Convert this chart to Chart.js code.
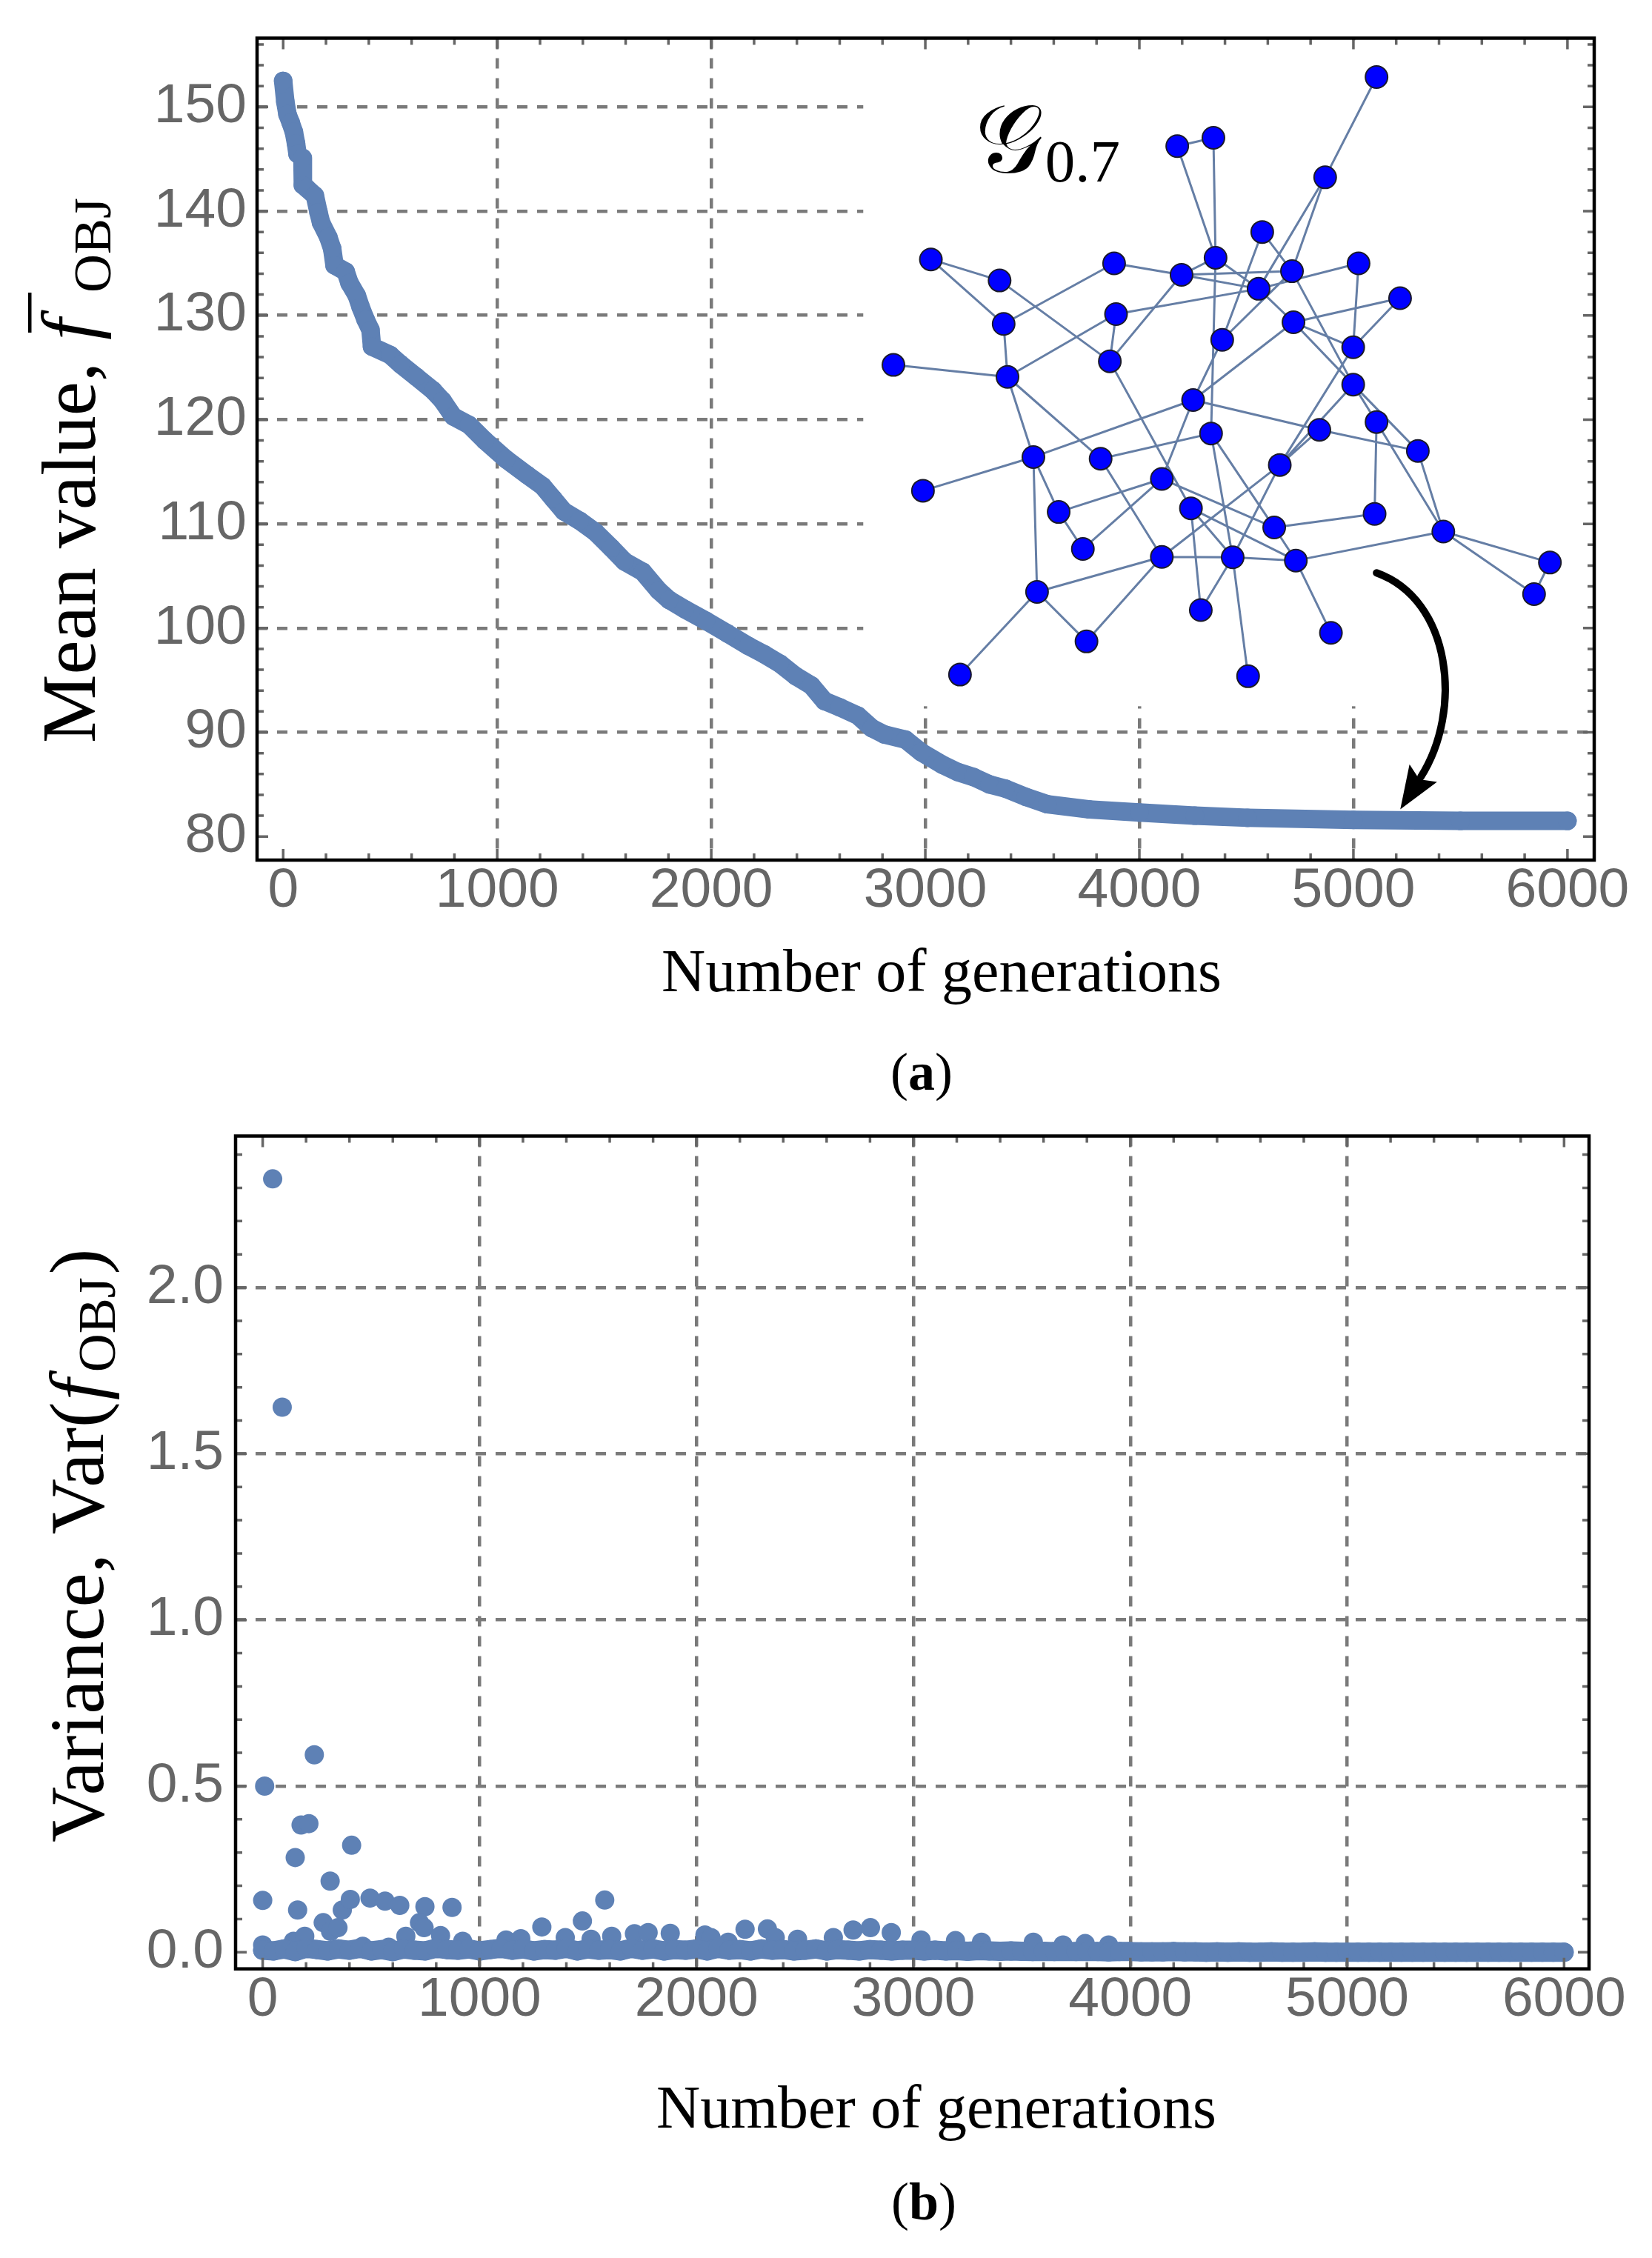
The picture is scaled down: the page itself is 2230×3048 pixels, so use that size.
<!DOCTYPE html>
<html>
<head>
<meta charset="utf-8">
<title>Mean value and variance of f_OBJ vs generations</title>
<script src="https://cdn.jsdelivr.net/npm/chart.js@4.4.1/dist/chart.umd.min.js"></script>
<style>
  html, body { margin: 0; padding: 0; background: #fff; }
  #page { position: relative; width: 2230px; height: 3048px; overflow: hidden; background: #fff; }
  canvas { position: absolute; left: 0; }
  #meanChart { top: 0; }
  #varChart { top: 1480px; }
</style>
</head>
<body>
<div id="page">
  <canvas id="meanChart" width="2230" height="1500"></canvas>
  <canvas id="varChart" width="2230" height="1568"></canvas>
</div>
<script>
// Two stacked Mathematica-style scatter panels, drawn with Chart.js

const BLUE = '#5e81b5';
const GRID = '#7a7a7a';
const TICK = '#666666';
const SANS = '"Liberation Sans", Arial, sans-serif';
const SERIF = '"Liberation Serif", "Times New Roman", serif';

// ---- panel (a): mean value of f_OBJ ----
const meanGen = [0, 10, 20, 35, 50, 60, 67, 90, 92, 110, 148, 165, 177, 211, 229, 240, 292, 310, 344, 362,
  385, 408, 415, 500, 549, 622, 700, 745, 795, 868, 942, 1041, 1139, 1213, 1262, 1311, 1385, 1459, 1533, 1594,
  1680, 1754, 1803, 1877, 1975, 2074, 2172, 2246, 2320, 2394, 2467, 2529, 2600, 2685, 2750, 2808, 2907, 2980, 3079, 3150,
  3226, 3300, 3374, 3470, 3570, 3767, 4000, 4259, 4505, 5000, 5500, 6000];
const meanVal = [152.5, 150.5, 149.3, 148.5, 147.6, 146.5, 145.5, 145.1, 142.5, 142.2, 141.5, 139.9, 138.9, 137.5, 136.4, 134.8, 134.2, 133.1, 131.9, 130.8,
  129.6, 128.6, 127.0, 126.2, 125.3, 124.1, 122.8, 121.8, 120.3, 119.5, 118.0, 116.2, 114.7, 113.6, 112.4, 111.2, 110.3, 109.2, 107.7, 106.4,
  105.4, 103.6, 102.7, 101.8, 100.7, 99.5, 98.3, 97.5, 96.6, 95.4, 94.5, 93.0, 92.4, 91.6, 90.4, 89.8, 89.3, 88.1, 86.9, 86.2,
  85.7, 85.0, 84.6, 83.8, 83.1, 82.6, 82.3, 82.0, 81.8, 81.6, 81.5, 81.5];
const genTicks = [0, 1000, 2000, 3000, 4000, 5000, 6000];
const genGrid = [1000, 2000, 3000, 4000, 5000];
const meanTicks = [80, 90, 100, 110, 120, 130, 140, 150];
const meanGrid = [90, 100, 110, 120, 130, 140, 150];

// inset graph G_0.7, node positions given in the panel's axis units
const nodeGen = [4177, 4346, 3026, 3347, 3882, 4197, 4356, 3366, 3891, 2851,
  3384, 3862, 4251, 4387, 5108, 4868, 4574, 4713, 5024, 4557,
  5218, 4720, 4999, 4999, 4335, 3505, 3819, 2989, 4105, 3623,
  4241, 3736, 4105, 3522, 4287, 3753, 3162, 5108, 4841, 5301,
  4656, 5099, 4630, 5420, 4436, 4731, 5918, 5844, 4895, 4508];
const nodeVal = [146.24, 147.04, 135.37, 133.35, 134.99, 133.89, 135.53, 129.18, 130.12, 125.25,
  124.1, 125.6, 121.88, 127.65, 152.87, 143.25, 138.0, 134.24, 134.99, 132.55,
  131.65, 129.34, 126.94, 123.36, 118.67, 116.41, 116.25, 113.18, 114.31, 111.14,
  111.49, 107.59, 106.83, 103.47, 101.73, 98.72, 95.54, 119.77, 119.02, 117.0,
  115.65, 110.95, 109.65, 109.26, 106.79, 106.48, 106.29, 103.26, 99.54, 95.38];
const edges = [[0, 1], [0, 6], [1, 6], [6, 24], [2, 3], [2, 7], [3, 11], [7, 4], [4, 5], [5, 6],
  [5, 17], [5, 19], [5, 11], [8, 11], [8, 10], [8, 19], [7, 10], [10, 9], [10, 25], [10, 26],
  [11, 30], [13, 12], [12, 21], [14, 15], [15, 19], [15, 17], [16, 13], [16, 17], [13, 17], [6, 19],
  [19, 21], [19, 18], [18, 22], [20, 21], [20, 22], [21, 22], [17, 23], [21, 23], [22, 40], [23, 40],
  [23, 37], [23, 39], [12, 38], [38, 39], [38, 40], [37, 41], [37, 43], [39, 43], [41, 42], [43, 45],
  [43, 46], [43, 47], [46, 47], [44, 45], [42, 45], [45, 48], [44, 49], [44, 34], [32, 44], [40, 44],
  [24, 44], [24, 42], [28, 42], [30, 45], [30, 44], [40, 32], [25, 27], [25, 12], [25, 29], [25, 33],
  [26, 24], [26, 32], [29, 28], [29, 31], [31, 28], [28, 12], [30, 34], [32, 33], [32, 35], [33, 35], [33, 36]];

// decoration anchors (axis units)
const insetBox = { gen: 2710, val: 92.5 };
const graphLabel = { gen: 3231, val: 143.8 };
const arrowPath = [[5108, 105.3], [5460, 102.7], [5512, 92.1], [5219, 82.6]];

// ---- panel (b): variance of f_OBJ ----
const varGen = [46, 90, 9, 238, 0, 150, 177, 213, 410, 161,
  311, 279, 313, 347, 367, 404, 495, 564, 632, 748,
  873, 723, 744, 660, 820, 922, 0, 142, 194, 461,
  581, 1122, 1190, 1287, 1395, 1474, 1514, 1577, 1609, 1714,
  1777, 1879, 2039, 2067, 2146, 2224, 2327, 2363, 2466, 2631,
  2722, 2802, 2898, 3035, 3194, 3314, 3553, 3690, 3792, 3900];
const varVal = [2.327, 1.64, 0.50, 0.594, 0.156, 0.285, 0.383, 0.387, 0.322, 0.127,
  0.214, 0.089, 0.063, 0.074, 0.127, 0.159, 0.163, 0.154, 0.141, 0.137,
  0.135, 0.089, 0.074, 0.048, 0.050, 0.033, 0.022, 0.033, 0.048, 0.018,
  0.015, 0.037, 0.041, 0.076, 0.044, 0.094, 0.039, 0.157, 0.048, 0.056,
  0.059, 0.057, 0.052, 0.044, 0.030, 0.069, 0.070, 0.044, 0.039, 0.044,
  0.067, 0.074, 0.059, 0.037, 0.035, 0.030, 0.030, 0.022, 0.026, 0.022];
const baseGen = [0, 50, 100, 150, 200, 250, 300, 350, 400, 450, 500, 550, 600, 650, 700, 750, 800, 850, 900, 950,
  1000, 1050, 1100, 1150, 1200, 1250, 1300, 1350, 1400, 1450, 1500, 1550, 1600, 1650, 1700, 1750, 1800, 1850, 1900, 1950,
  2000, 2050, 2100, 2150, 2200, 2250, 2300, 2350, 2400, 2450, 2500, 2550, 2600, 2650, 2700, 2750, 2800, 2850, 2900, 2950,
  3000, 3050, 3100, 3150, 3200, 3250, 3300, 3350, 3400, 3450, 3500, 3550, 3600, 3650, 3700, 3750, 3800, 3850, 3900, 3950,
  4000, 4050, 4100, 4150, 4200, 4250, 4300, 4350, 4400, 4450, 4500, 4550, 4600, 4650, 4700, 4750, 4800, 4850, 4900, 4950,
  5000, 5050, 5100, 5150, 5200, 5250, 5300, 5350, 5400, 5450, 5500, 5550, 5600, 5650, 5700, 5750, 5800, 5850, 5900, 5950, 6000];
const baseVar = [0.006, 0.004, 0.010, 0.002, 0.012, 0.008, 0.004, 0.010, 0.006, 0.012,
  0.004, 0.008, 0.002, 0.010, 0.006, 0.004, 0.012, 0.008, 0.006, 0.010,
  0.004, 0.008, 0.012, 0.006, 0.010, 0.004, 0.008, 0.006, 0.012, 0.004,
  0.010, 0.006, 0.008, 0.004, 0.012, 0.006, 0.010, 0.004, 0.008, 0.006,
  0.010, 0.004, 0.012, 0.006, 0.008, 0.004, 0.010, 0.006, 0.008, 0.004,
  0.006, 0.010, 0.004, 0.008, 0.006, 0.004, 0.008, 0.006, 0.004, 0.006,
  0.006, 0.004, 0.006, 0.004, 0.005, 0.003, 0.005, 0.004, 0.003, 0.004,
  0.003, 0.002, 0.003, 0.002, 0.003, 0.002, 0.002, 0.002, 0.001, 0.002,
  0.002, 0.001, 0.001, 0.001, 0.002, 0.001, 0.001, 0, 0.001, 0,
  0.001, 0, 0, 0.001, 0, 0, 0, 0.001, 0, 0,
  0, 0, 0, 0, 0, 0, 0, 0, 0, 0,
  0, 0, 0, 0, 0, 0, 0, 0, 0, 0, 0];
const varTicks = [0, 0.5, 1, 1.5, 2];
const varGrid = [0.5, 1, 1.5, 2];

function zip(xs, ys) {
  return xs.map((x, i) => ({ x: x, y: ys[i] }));
}

function range(from, to, step) {
  const out = [];
  for (let v = from; v <= to + 1e-9; v += step) out.push(+v.toFixed(4));
  return out;
}

function axisX(min, max, grid) {
  return {
    type: 'linear', min: min, max: max,
    afterBuildTicks: s => { s.ticks = genTicks.map(v => ({ value: v })); },
    afterFit: s => { s.height = 100; },
    grid: { drawTicks: false, lineWidth: 4.5, color: c => (c.tick && grid.includes(c.tick.value)) ? GRID : 'rgba(0,0,0,0)' },
    border: { display: false, dash: [14, 13] },
    ticks: { color: TICK, padding: 5, maxRotation: 0, autoSkip: false,
      font: { family: SANS, size: 75, lineHeight: 1 }, callback: v => String(v) }
  };
}

function axisY(min, max, ticks, grid, width, pad, fmt) {
  return {
    type: 'linear', min: min, max: max,
    afterBuildTicks: s => { s.ticks = ticks.map(v => ({ value: v })); },
    afterFit: s => { s.width = width; },
    grid: { drawTicks: false, lineWidth: 4.5, color: c => (c.tick && grid.includes(c.tick.value)) ? GRID : 'rgba(0,0,0,0)' },
    border: { display: false, dash: [14, 13] },
    ticks: { color: TICK, padding: pad, autoSkip: false,
      font: { family: SANS, size: 75, lineHeight: 1 }, callback: fmt }
  };
}

// frame with inward ticks on all four sides
const framePlugin = {
  id: 'frame',
  afterDraw(chart, args, opts) {
    const { ctx, chartArea: a } = chart;
    const xs = chart.scales.x, ys = chart.scales.y;
    ctx.save();
    ctx.strokeStyle = TICK;
    ctx.lineWidth = 3.5;
    ctx.beginPath();
    opts.xMinor.forEach(v => {
      const len = opts.xMajor.includes(v) ? 15 : 9;
      const px = xs.getPixelForValue(v);
      ctx.moveTo(px, a.bottom); ctx.lineTo(px, a.bottom - len);
      ctx.moveTo(px, a.top); ctx.lineTo(px, a.top + len);
    });
    opts.yMinor.forEach(v => {
      const len = opts.yMajor.includes(v) ? 15 : 9;
      const py = ys.getPixelForValue(v);
      ctx.moveTo(a.left, py); ctx.lineTo(a.left + len, py);
      ctx.moveTo(a.right, py); ctx.lineTo(a.right - len, py);
    });
    ctx.stroke();
    ctx.strokeStyle = '#000';
    ctx.lineWidth = 4.5;
    ctx.strokeRect(a.left, a.top, a.right - a.left, a.bottom - a.top);
    ctx.restore();
  }
};

// white inset behind the graph, the graph label and the arrow
const insetPlugin = {
  id: 'inset',
  beforeDatasetsDraw(chart) {
    const { ctx, chartArea: a, scales: { x, y } } = chart;
    const left = x.getPixelForValue(insetBox.gen);
    const bottom = y.getPixelForValue(insetBox.val);
    ctx.save();
    ctx.fillStyle = '#fff';
    ctx.fillRect(left, a.top + 3, a.right - 3 - left, bottom - a.top - 3);
    ctx.restore();
  },
  afterDatasetsDraw(chart) {
    const { ctx, scales: { x, y } } = chart;
    const p = arrowPath.map(([g, v]) => [x.getPixelForValue(g), y.getPixelForValue(v)]);
    let dx = p[3][0] - p[2][0], dy = p[3][1] - p[2][1];
    const d = Math.hypot(dx, dy);
    dx /= d; dy /= d;
    const headLen = 58, headHalf = 22;
    const base = [p[3][0] - dx * headLen, p[3][1] - dy * headLen];
    ctx.save();
    ctx.strokeStyle = '#000';
    ctx.fillStyle = '#000';
    ctx.lineWidth = 10;
    ctx.lineCap = 'round';
    ctx.beginPath();
    ctx.moveTo(p[0][0], p[0][1]);
    ctx.bezierCurveTo(p[1][0], p[1][1], p[2][0], p[2][1], base[0] + dx * 6, base[1] + dy * 6);
    ctx.stroke();
    ctx.beginPath();
    ctx.moveTo(p[3][0], p[3][1]);
    ctx.lineTo(base[0] - dy * headHalf, base[1] + dx * headHalf);
    ctx.lineTo(base[0] + dx * 10, base[1] + dy * 10);
    ctx.lineTo(base[0] + dy * headHalf, base[1] - dx * headHalf);
    ctx.closePath();
    ctx.fill();

    const gx = x.getPixelForValue(graphLabel.gen);
    const gy = y.getPixelForValue(graphLabel.val);
    ctx.textBaseline = 'alphabetic';
    ctx.textAlign = 'left';
    ctx.font = '130px "DejaVu Serif", "DejaVu Sans", serif';
    ctx.fillText('\u{1D4A2}', gx, gy);
    const gw = ctx.measureText('\u{1D4A2}').width;
    ctx.font = '81px ' + SERIF;
    ctx.fillText('0.7', gx + gw + 2, gy + 13);
    ctx.restore();
  }
};

function drawCaption(ctx, letter, cx, baseY) {
  ctx.font = '72px ' + SERIF;
  const wp = ctx.measureText('(').width;
  const wq = ctx.measureText(')').width;
  ctx.font = 'bold 72px ' + SERIF;
  const wl = ctx.measureText(letter).width;
  const x0 = cx - (wp + wl + wq) / 2;
  ctx.textAlign = 'left';
  ctx.font = '72px ' + SERIF;
  ctx.fillText('(', x0, baseY);
  ctx.font = 'bold 72px ' + SERIF;
  ctx.fillText(letter, x0 + wp, baseY);
  ctx.font = '72px ' + SERIF;
  ctx.fillText(')', x0 + wp + wl, baseY);
}

const meanTextPlugin = {
  id: 'meanText',
  afterDraw(chart) {
    const ctx = chart.ctx;
    ctx.save();
    ctx.fillStyle = '#000';
    ctx.textBaseline = 'alphabetic';
    ctx.textAlign = 'center';
    ctx.font = '82px ' + SERIF;
    ctx.fillText('Number of generations', 1271, 1338);
    drawCaption(ctx, 'a', 1244, 1471);

    ctx.translate(128, 1003);
    ctx.rotate(-Math.PI / 2);
    ctx.textAlign = 'left';
    ctx.font = '104px ' + SERIF;
    ctx.fillText('Mean value, ', 0, 0);
    const w1 = ctx.measureText('Mean value, ').width;
    ctx.font = 'italic 104px ' + SERIF;
    ctx.fillText('f', w1 + 4, 0);
    ctx.fillRect(w1 + 14, -90, 54, 4.5);
    ctx.font = '72px ' + SERIF;
    ctx.fillText('OBJ', w1 + 68, 21);
    ctx.restore();
  }
};

const varTextPlugin = {
  id: 'varText',
  afterDraw(chart) {
    const ctx = chart.ctx;
    ctx.save();
    ctx.fillStyle = '#000';
    ctx.textBaseline = 'alphabetic';
    ctx.textAlign = 'center';
    ctx.font = '82px ' + SERIF;
    ctx.fillText('Number of generations', 1264, 1392);
    drawCaption(ctx, 'b', 1247, 1516);

    ctx.translate(139, 1007);
    ctx.rotate(-Math.PI / 2);
    ctx.textAlign = 'left';
    ctx.font = '104px ' + SERIF;
    ctx.fillText('Variance, Var(', 0, 0);
    const w = ctx.measureText('Variance, Var(').width;
    ctx.font = 'italic 104px ' + SERIF;
    ctx.fillText('f', w + 2, 0);
    ctx.font = '72px ' + SERIF;
    ctx.fillText('OBJ', w + 40, 16);
    const ws = ctx.measureText('OBJ').width;
    ctx.font = '104px ' + SERIF;
    ctx.fillText(')', w + 40 + ws + 4, 0);
    ctx.restore();
  }
};

const edgePoints = [];
edges.forEach(([i, j]) => {
  edgePoints.push({ x: nodeGen[i], y: nodeVal[i] }, { x: nodeGen[j], y: nodeVal[j] }, { x: nodeGen[j], y: null });
});

Chart.defaults.font.family = SANS;

new Chart(document.getElementById('meanChart'), {
  type: 'scatter',
  data: {
    datasets: [
      {
        type: 'line', data: zip(meanGen, meanVal), order: 1,
        borderColor: BLUE, backgroundColor: BLUE, borderWidth: 25,
        borderJoinStyle: 'round', borderCapStyle: 'round', tension: 0,
        pointRadius: 12.5, pointBorderWidth: 0, pointBackgroundColor: BLUE
      },
      {
        type: 'line', data: edgePoints, order: 3, showLine: true, spanGaps: false,
        borderColor: 'rgba(84, 112, 155, 0.9)', borderWidth: 3, pointRadius: 0
      },
      {
        type: 'scatter', data: zip(nodeGen, nodeVal), order: 2,
        pointRadius: 15, backgroundColor: '#0000ff', borderColor: '#1a1a2a', borderWidth: 2
      }
    ]
  },
  options: {
    responsive: false,
    devicePixelRatio: 1,
    animation: false,
    events: [],
    layout: { padding: { top: 46, right: 78, bottom: 239, left: 0 } },
    plugins: {
      legend: { display: false },
      tooltip: { enabled: false },
      frame: { xMajor: genTicks, xMinor: range(0, 6000, 200), yMajor: meanTicks, yMinor: range(80, 156, 2) }
    },
    scales: {
      x: axisX(-122, 6125, genGrid),
      y: axisY(77.74, 156.6, meanTicks, meanGrid, 347, 14, v => String(v))
    }
  },
  plugins: [insetPlugin, framePlugin, meanTextPlugin]
});

new Chart(document.getElementById('varChart'), {
  type: 'scatter',
  data: {
    datasets: [
      {
        type: 'line', data: zip(baseGen, baseVar), showLine: true, tension: 0,
        borderColor: BLUE, borderWidth: 26, borderCapStyle: 'round', borderJoinStyle: 'round',
        pointRadius: 13, pointBorderWidth: 0, pointBackgroundColor: BLUE
      },
      { data: zip(varGen, varVal), pointRadius: 13, borderWidth: 0, backgroundColor: BLUE }
    ]
  },
  options: {
    responsive: false,
    devicePixelRatio: 1,
    animation: false,
    events: [],
    layout: { padding: { top: 50, right: 85, bottom: 290.3, left: 0 } },
    plugins: {
      legend: { display: false },
      tooltip: { enabled: false },
      frame: { xMajor: genTicks, xMinor: range(0, 6000, 200), yMajor: varTicks, yMinor: range(0, 2.4, 0.1) }
    },
    scales: {
      x: axisX(-125, 6115, genGrid),
      y: axisY(-0.05, 2.456, varTicks, varGrid, 318, 16, v => v.toFixed(1))
    }
  },
  plugins: [framePlugin, varTextPlugin]
});
</script>
</body>
</html>
